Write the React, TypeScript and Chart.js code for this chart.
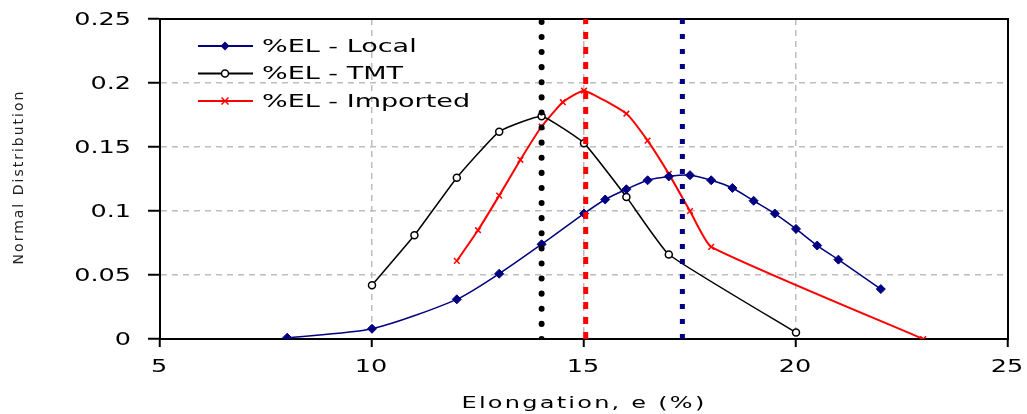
import React, { useEffect, useRef } from 'react';
import { Chart, registerables } from 'chart.js';

Chart.register(...registerables);

// ---- Data ----
const seriesLabels = ['%EL - Local', '%EL - TMT', '%EL - Imported'];
const seriesColors = ['#000080', '#000000', '#ff0000'];

const localX = [8, 10, 12, 13, 14, 15, 15.5, 16, 16.5, 17, 17.5, 18, 18.5, 19, 19.5, 20, 20.5, 21, 22];
const localY = [0.001, 0.008, 0.031, 0.051, 0.074, 0.098, 0.109, 0.117, 0.124, 0.127, 0.128, 0.124, 0.118, 0.108, 0.098, 0.086, 0.073, 0.062, 0.039];

const tmtX = [10, 11, 12, 13, 14, 15, 16, 17, 20];
const tmtY = [0.042, 0.081, 0.126, 0.162, 0.174, 0.153, 0.111, 0.066, 0.005];

const impX = [12, 12.5, 13, 13.5, 14, 14.5, 15, 16, 16.5, 17, 17.5, 18, 23];
const impY = [0.061, 0.085, 0.112, 0.14, 0.166, 0.185, 0.194, 0.176, 0.155, 0.129, 0.1, 0.072, 0.0];

// mean (vertical) lines: Local, TMT, Imported
const meanValues = [17.32, 14, 15.04];

const xTickLabels = ['5', '10', '15', '20', '25'];
const yTickLabels = ['0', '0.05', '0.1', '0.15', '0.2', '0.25'];
const xTitle = 'Elongation, e (%)';
const yTitle = 'Normal Distribution';

const FONT = "'DejaVu Sans', Verdana, sans-serif";
const STRETCH = 1.5;

const toPts = (xs: number[], ys: number[]) => xs.map((x, i) => ({ x, y: ys[i] }));

function drawText(
  ctx: CanvasRenderingContext2D,
  text: string,
  x: number,
  y: number,
  align: CanvasTextAlign,
  size: number,
  ls: number,
  sx: number = STRETCH
) {
  ctx.save();
  (ctx as any).letterSpacing = ls + 'px';
  ctx.font = `${size}px ${FONT}`;
  ctx.fillStyle = '#000';
  ctx.textAlign = align;
  ctx.textBaseline = 'middle';
  ctx.translate(x, y);
  ctx.scale(sx, 1);
  ctx.fillText(text, 0, 0);
  ctx.restore();
}

function drawMarker(ctx: CanvasRenderingContext2D, idx: number, x: number, y: number) {
  ctx.save();
  ctx.setLineDash([]);
  if (idx === 0) {
    const r = 4.5;
    ctx.fillStyle = seriesColors[0];
    ctx.beginPath();
    ctx.moveTo(x, y - r);
    ctx.lineTo(x + r, y);
    ctx.lineTo(x, y + r);
    ctx.lineTo(x - r, y);
    ctx.closePath();
    ctx.fill();
  } else if (idx === 1) {
    ctx.fillStyle = '#fff';
    ctx.strokeStyle = '#000';
    ctx.lineWidth = 1.5;
    ctx.beginPath();
    ctx.arc(x, y, 3.5, 0, Math.PI * 2);
    ctx.fill();
    ctx.stroke();
  } else {
    const r = 3.5;
    ctx.strokeStyle = seriesColors[2];
    ctx.lineWidth = 1.5;
    ctx.beginPath();
    ctx.moveTo(x - r, y - r);
    ctx.lineTo(x + r, y + r);
    ctx.moveTo(x + r, y - r);
    ctx.lineTo(x - r, y + r);
    ctx.stroke();
  }
  ctx.restore();
}

const customPlugin = {
  id: 'customDecor',
  beforeDatasetsDraw(chart: any) {
    const { ctx, chartArea } = chart;
    ctx.save();
    ctx.setLineDash([]);
    ctx.strokeStyle = '#000';
    ctx.lineWidth = 2;
    ctx.strokeRect(chartArea.left, chartArea.top, chartArea.right - chartArea.left, chartArea.bottom - chartArea.top);
    ctx.restore();
  },
  afterDraw(chart: any) {
    const ctx = chart.ctx as CanvasRenderingContext2D;
    const xs = chart.scales.x;
    const ys = chart.scales.y;
    const area = chart.chartArea;

    // tick labels (positions from the library's scales)
    ys.ticks.forEach((t: any, i: number) => {
      const py = ys.getPixelForValue(t.value);
      drawText(ctx, yTickLabels[i] ?? String(t.value), 131, py + 1.5, 'right', 17, 0);
    });
    xs.ticks.forEach((t: any, i: number) => {
      const px = xs.getPixelForValue(t.value);
      drawText(ctx, xTickLabels[i] ?? String(t.value), px - 1, 368, 'center', 17, 0);
    });

    // x-axis title
    drawText(ctx, xTitle, (area.left + area.right) / 2, 404, 'center', 16, 1.5);

    // legend
    const rows = [46, 73.5, 101];
    seriesLabels.forEach((lab, i) => {
      const y = rows[i];
      ctx.save();
      ctx.strokeStyle = seriesColors[i];
      ctx.lineWidth = 2;
      ctx.setLineDash([]);
      ctx.beginPath();
      ctx.moveTo(198, y);
      ctx.lineTo(253, y);
      ctx.stroke();
      ctx.restore();
      drawMarker(ctx, i, 225, y);
      drawText(ctx, lab, 262, y + 1, 'left', 18, 0);
    });

    // y-axis title
    ctx.save();
    (ctx as any).letterSpacing = '2px';
    ctx.font = `14px ${FONT}`;
    ctx.fillStyle = '#222';
    ctx.textAlign = 'center';
    ctx.textBaseline = 'middle';
    ctx.translate(19, 177);
    ctx.rotate(-Math.PI / 2);
    ctx.fillText(yTitle, 0, 0);
    ctx.restore();
  },
};

export default function App() {
  const ref = useRef<HTMLCanvasElement | null>(null);

  useEffect(() => {
    document.body.style.margin = '0';
    const canvas = ref.current;
    if (!canvas) return;

    const meanDash = [[5, 10], [0.1, 15], [7, 8]];
    const meanCap = ['butt', 'round', 'butt'];
    const meanWidth = [5, 6, 5];
    const meanSets = meanValues.map((v, i) => ({
      type: 'line' as const,
      label: 'mean-' + i,
      data: [{ x: v, y: 0 }, { x: v, y: 0.25 }],
      borderColor: seriesColors[i],
      borderWidth: meanWidth[i],
      borderDash: meanDash[i],
      borderCapStyle: meanCap[i],
      pointRadius: 0,
      tension: 0,
      order: 0,
    }));

    const curve = (i: number, pts: any[], opts: any) => ({
      type: 'line' as const,
      label: seriesLabels[i],
      data: pts,
      borderColor: seriesColors[i],
      order: 1,
      ...opts,
    });

    const chart = new Chart(canvas, {
      type: 'line',
      data: {
        datasets: [
          ...meanSets,
          curve(0, toPts(localX, localY), {
            borderWidth: 1.5,
            tension: 0.25,
            pointStyle: 'rectRot',
            pointRadius: 4.5,
            backgroundColor: seriesColors[0],
            pointBackgroundColor: seriesColors[0],
            pointBorderColor: seriesColors[0],
            pointBorderWidth: 1,
          }),
          curve(1, toPts(tmtX, tmtY), {
            borderWidth: 1.5,
            tension: 0.12,
            pointStyle: 'circle',
            pointRadius: 3.5,
            backgroundColor: '#fff',
            pointBackgroundColor: '#fff',
            pointBorderColor: '#000',
            pointBorderWidth: 1.5,
          }),
          curve(2, toPts(impX, impY), {
            borderWidth: 2,
            tension: 0.15,
            pointStyle: 'crossRot',
            pointRadius: 4,
            pointBorderColor: seriesColors[2],
            pointBorderWidth: 1.5,
          }),
        ] as any,
      },
      options: {
        animation: false,
        responsive: false,
        devicePixelRatio: 1,
        layout: { padding: { top: 19, right: 19, left: 0, bottom: 0 } },
        plugins: {
          legend: { display: false },
          tooltip: { enabled: false },
        },
        scales: {
          x: {
            type: 'linear',
            min: 5,
            max: 25,
            ticks: { stepSize: 5, display: false },
            grid: {
              color: (c: any) => (c.tick && (c.tick.value === 5 || c.tick.value === 25) ? 'rgba(0,0,0,0)' : '#bdbdbd'),
              lineWidth: 1.5,
              tickColor: '#000',
              tickLength: 8,
              tickWidth: 2,
            },
            border: { display: true, color: '#000', width: 2, dash: [6, 5] },
            title: { display: false },
            afterFit: (s: any) => {
              s.height = 75;
            },
          },
          y: {
            min: 0,
            max: 0.25,
            ticks: { stepSize: 0.05, display: false },
            grid: {
              color: (c: any) => (c.tick && (c.tick.value === 0 || Math.abs(c.tick.value - 0.25) < 1e-9) ? 'rgba(0,0,0,0)' : '#bdbdbd'),
              lineWidth: 1.5,
              tickColor: '#000',
              tickLength: 12,
              tickWidth: 2,
            },
            border: { display: true, color: '#000', width: 2, dash: [6, 5] },
            title: { display: false },
            afterFit: (s: any) => {
              s.width = 160;
            },
          },
        },
      } as any,
      plugins: [customPlugin],
    });

    return () => chart.destroy();
  }, []);

  return (
    <div style={{ width: 1027, height: 414 }}>
      <canvas ref={ref} width={1027} height={414} style={{ display: 'block' }} />
    </div>
  );
}
